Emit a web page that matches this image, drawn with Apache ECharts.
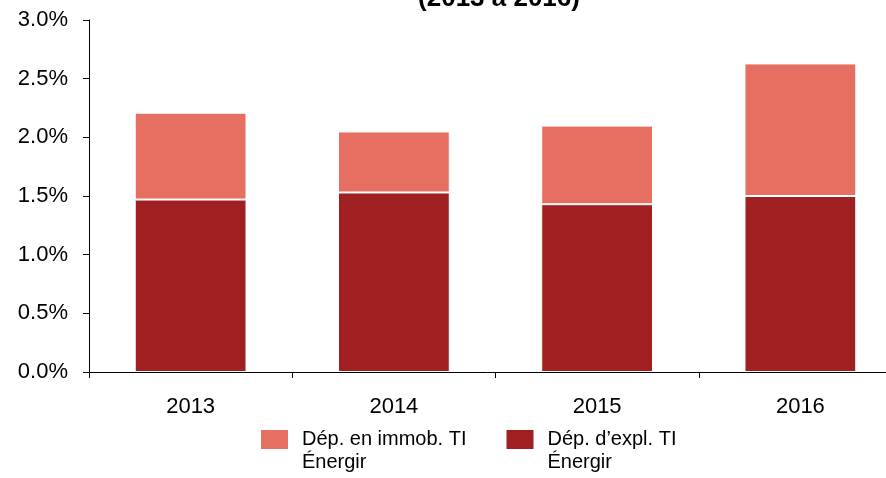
<!DOCTYPE html>
<html>
<head>
<meta charset="utf-8">
<script src="https://cdn.jsdelivr.net/npm/echarts@6/dist/echarts.min.js"></script>
<style>
html, body { margin: 0; padding: 0; background: #fff; }
#root { width: 886px; height: 478px; }
</style>
</head>
<body>
<div id="root"></div>
<script>
var years = ['2013', '2014', '2015', '2016'];
var explValues = [1.47, 1.53, 1.43, 1.50];
var immobValues = [0.74, 0.52, 0.67, 1.13];
var yTicks = ['0.0%', '0.5%', '1.0%', '1.5%', '2.0%', '2.5%', '3.0%'];
var seriesNames = ['Dép. en immob. TI\nÉnergir', 'Dép. d\u2019expl. TI\nÉnergir'];

var chart = echarts.init(document.getElementById('root'));
var font = 'Liberation Sans, Arial, sans-serif';
var option = {
    animation: false,
    title: {
        text: '(2013 à 2016)',
        left: 494,
        textAlign: 'center',
        top: -19,
        textStyle: { fontFamily: font, fontSize: 26, fontWeight: 'bold', color: '#000' }
    },
    grid: { left: 89, width: 813, top: 20, bottom: 106, outerBoundsMode: 'none' },
    legend: {
        data: [seriesNames[0], seriesNames[1]],
        left: 259,
        top: 400,
        padding: 0,
        itemWidth: 29,
        itemHeight: 21,
        itemGap: 38,
        icon: 'rect',
        formatter: function (name) { return '\n' + name; },
        textStyle: {
            fontFamily: font, fontSize: 20, color: '#000',
            lineHeight: 23, padding: [10, 0, 0, 8]
        }
    },
    xAxis: {
        type: 'category',
        data: years,
        axisLine: { lineStyle: { color: '#000', width: 1 } },
        axisTick: { show: true, length: 6, lineStyle: { color: '#000' } },
        axisLabel: { fontFamily: font, fontSize: 22, color: '#000', margin: 24 }
    },
    yAxis: {
        type: 'value',
        min: 0,
        max: 3,
        interval: 0.5,
        axisLine: { show: true, lineStyle: { color: '#000', width: 1 } },
        axisTick: { show: true, length: 6, lineStyle: { color: '#000' } },
        splitLine: { show: false },
        axisLabel: {
            fontFamily: font, fontSize: 22, color: '#000', margin: 21,
            formatter: function (v) { return yTicks[Math.round(v / 0.5)]; }
        }
    },
    series: [
        {
            name: seriesNames[1],
            type: 'bar',
            stack: 'total',
            barWidth: '55%',
            data: explValues,
            itemStyle: { color: '#A01F21', borderColor: '#fff', borderWidth: 1 }
        },
        {
            name: seriesNames[0],
            type: 'bar',
            stack: 'total',
            barWidth: '55%',
            data: immobValues,
            itemStyle: { color: '#E76F61', borderColor: '#fff', borderWidth: 1 }
        }
    ]
};
chart.setOption(option);
</script>
</body>
</html>
